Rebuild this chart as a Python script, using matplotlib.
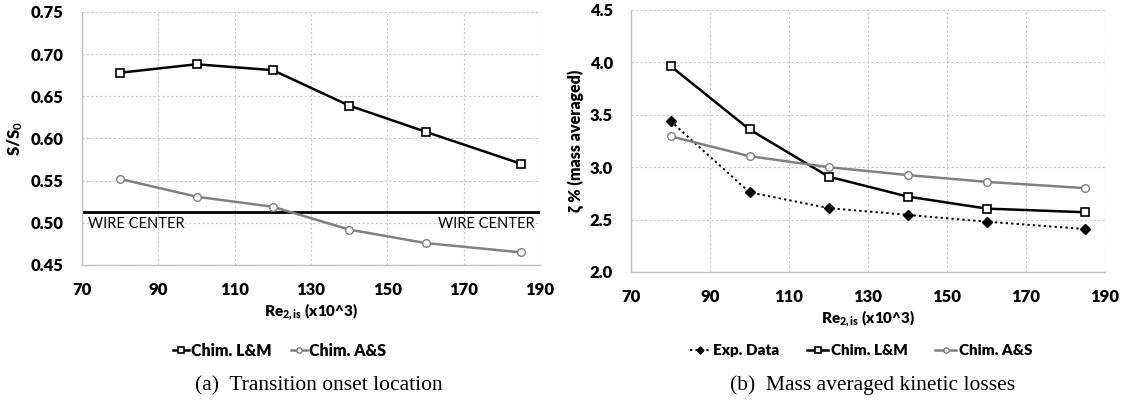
import matplotlib
matplotlib.use("Agg")
import matplotlib.pyplot as plt

# ---------------- data ----------------
re_vals = [80, 100, 120, 140, 160, 185]
# (a) transition onset location
onset_lm = [0.678, 0.688, 0.681, 0.639, 0.608, 0.570]
onset_as = [0.552, 0.531, 0.519, 0.492, 0.476, 0.465]
wire_center = 0.513
# (b) mass averaged kinetic losses
loss_exp = [3.44, 2.76, 2.61, 2.545, 2.48, 2.41]
loss_lm = [3.965, 3.36, 2.91, 2.72, 2.605, 2.57]
loss_as = [3.295, 3.105, 3.00, 2.925, 2.86, 2.80]

xticks = [70, 90, 110, 130, 150, 170, 190]
yticks_a = [0.45, 0.50, 0.55, 0.60, 0.65, 0.70, 0.75]
yticks_b = [2.0, 2.5, 3.0, 3.5, 4.0, 4.5]

labels = ["Exp. Data", "Chim. L&M", "Chim. A&S"]
captions = ["(a)  Transition onset location", "(b)  Mass averaged kinetic losses"]

plt.rcParams['font.family'] = ['Lato', 'DejaVu Sans']
plt.rcParams['font.weight'] = 'bold'
plt.rcParams['mathtext.fontset'] = 'custom'
plt.rcParams['mathtext.rm'] = 'Lato:bold'
plt.rcParams['mathtext.bf'] = 'Lato:bold'
plt.rcParams['mathtext.it'] = 'Lato:bold'

fig = plt.figure(figsize=(11.27, 4.05), dpi=100)
axA = fig.add_axes([0.0728, 0.3457, 0.4064, 0.6247])
axB = fig.add_axes([0.5599, 0.3284, 0.4206, 0.647])

GRAY = '#808080'
SPINE = '#bfbfbf'

def style(ax):
    for s in ['top', 'right']:
        ax.spines[s].set_visible(False)
    for s in ['left', 'bottom']:
        ax.spines[s].set_color(SPINE)
        ax.spines[s].set_linewidth(1.0)
    ax.grid(True, color='#c8c8c8', linestyle=(0, (2, 2)), linewidth=0.8)
    ax.set_axisbelow(True)
    ax.tick_params(axis='y', length=0, labelsize=12, pad=13)
    ax.tick_params(axis='x', length=0, labelsize=12, pad=12)
    ax.set_xlim(70, 190)
    ax.set_xticks(xticks)
    for t in ax.get_xticklabels() + ax.get_yticklabels():
        t.set_fontweight('heavy')

XLABEL = r"Re$_{\mathregular{2,is}}$ (x10^3)"

# ---- (a) ----
style(axA)
axA.plot(re_vals, onset_lm, color='black', lw=1.8, marker='s', ms=5.5,
         mfc='white', mec='black', mew=1.2, label=labels[1], zorder=3)
axA.plot(re_vals, onset_as, color=GRAY, lw=1.8, marker='o', ms=5.5,
         mfc='white', mec=GRAY, mew=1.0, label=labels[2], zorder=3)
axA.axhline(wire_center, color='black', lw=2.0, zorder=2)
axA.set_ylim(0.45, 0.75)
axA.set_yticks(yticks_a)
axA.set_yticklabels([f"{v:.2f}" for v in yticks_a], fontweight='heavy')
axA.text(71.5, wire_center - 0.006, "WIRE CENTER", ha='left', va='top',
         fontsize=10.5, fontweight='normal')
axA.text(188.5, wire_center - 0.006, "WIRE CENTER", ha='right', va='top',
         fontsize=10.5, fontweight='normal')
axA.set_ylabel(r"S/S$_0$", fontsize=12, fontweight='heavy', labelpad=4)
axA.set_xlabel(XLABEL, fontsize=11, fontweight='heavy', labelpad=3)
axA.legend(loc='center', bbox_to_anchor=(0.431, -0.34), ncol=2, frameon=False,
           handlelength=1.0, handletextpad=0.15, columnspacing=1.2,
           prop={'weight': 'heavy', 'size': 11.5}, markerscale=0.7)

# ---- (b) ----
style(axB)
axB.plot(re_vals, loss_exp, color='black', lw=1.4, ls=(0, (1.2, 1.6)), marker='D', ms=5,
         mfc='black', mec='black', label=labels[0], zorder=3)
axB.plot(re_vals, loss_lm, color='black', lw=1.8, marker='s', ms=5.5,
         mfc='white', mec='black', mew=1.2, label=labels[1], zorder=3)
axB.plot(re_vals, loss_as, color=GRAY, lw=1.8, marker='o', ms=5.5,
         mfc='white', mec=GRAY, mew=1.0, label=labels[2], zorder=3)
axB.set_ylim(2.0, 4.5)
axB.set_yticks(yticks_b)
axB.set_yticklabels([f"{v:.1f}" for v in yticks_b], fontweight='heavy')
axB.set_ylabel("ζ % (mass averaged)", fontsize=11.5, fontweight='heavy', labelpad=4)
axB.set_xlabel(XLABEL, fontsize=11, fontweight='heavy', labelpad=3)
axB.legend(loc='center', bbox_to_anchor=(0.485, -0.30), ncol=3, frameon=False,
           handlelength=1.4, handletextpad=0.15, columnspacing=1.8,
           prop={'weight': 'heavy', 'size': 11}, markerscale=0.7)

# ---- captions ----
fig.text(0.283, 0.048, captions[0], ha='center', va='center', fontsize=15.5,
         family='Liberation Serif', fontweight='normal')
fig.text(0.774, 0.048, captions[1], ha='center', va='center', fontsize=15.5,
         family='Liberation Serif', fontweight='normal')

fig.savefig("out.png", dpi=100)
